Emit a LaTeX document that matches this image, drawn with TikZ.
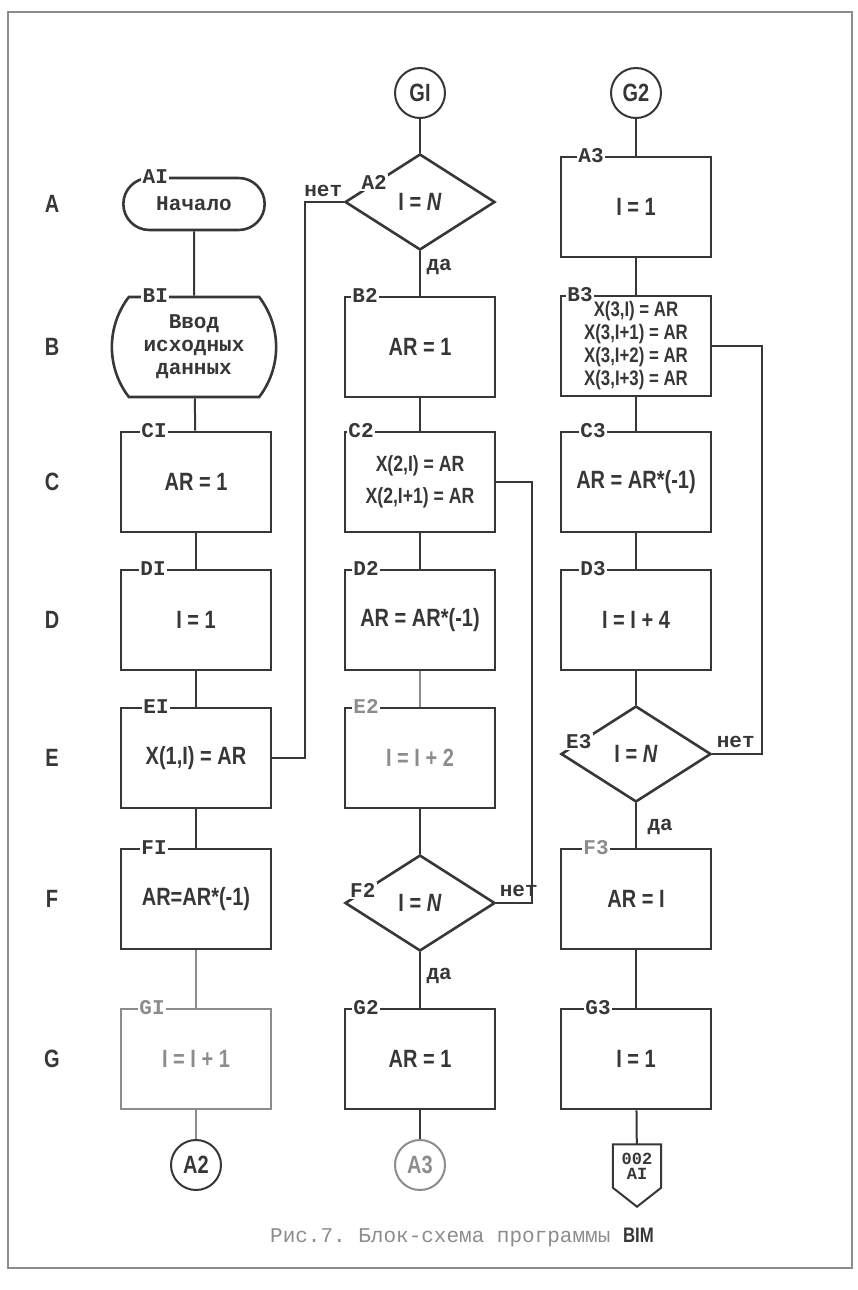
\documentclass[tikz,border=0pt]{standalone}
\usepackage{fontspec}
\setmainfont{Liberation Serif}
\setsansfont{Liberation Sans}[FakeStretch=0.8]
\setmonofont{Liberation Mono}
\usepackage{tikz}
\usetikzlibrary{shapes.geometric,shapes.misc,calc,positioning}
\definecolor{ink}{RGB}{55,55,55}
\definecolor{faint}{RGB}{140,140,140}
\newcommand\hand{\sffamily\bfseries\fontsize{25}{30}\selectfont}
\newcommand\handsm{\sffamily\bfseries\fontsize{22}{32}\selectfont}
\newcommand\handxs{\sffamily\bfseries\fontsize{21}{23}\selectfont}
\newcommand\tw{\ttfamily\fontsize{21}{23}\selectfont}
\newcommand\twb{\ttfamily\bfseries\fontsize{21}{23}\selectfont}
\newcommand\twtiny{\ttfamily\bfseries\fontsize{17}{15}\selectfont}

\begin{document}
\begin{tikzpicture}[x = 1pt, y = -1pt,
  every node/.style = {text = ink},
  block/.style = {draw = ink, line width = 2.6pt, minimum width = 150pt, minimum height = 100pt, inner sep = 0pt, align = center, font = \hand},
  decide/.style = {draw = ink, line width = 2.6pt, diamond, aspect = 1.5, minimum width = 150pt, minimum height = 96pt, inner sep = 0pt, font = \hand},
  conn/.style = {draw = ink, line width = 2pt, circle, minimum size = 50pt, inner sep = 0pt, font = \hand},
  tag/.style = {fill = white, inner sep = 1.5pt, anchor = west, font = \twb},
  rowname/.style = {font = \hand},
  link/.style = {draw = ink, line width = 2pt},
  faded/.style = {draw = faint, text = faint}]
\useasboundingbox (0,0) rectangle (857,1290);
\draw[faint, line width = 1.2pt] (8,12) rectangle (852,1268);
\node[rowname] (ra) at (52,204) {A};
\node[rowname] (rb) at (52,347) {B};
\node[rowname] (rc) at (52,482) {C};
\node[rowname] (rd) at (52,620) {D};
\node[rowname] (re) at (52,758) {E};
\node[rowname] (rf) at (52,899) {F};
\node[rowname] (rg) at (52,1059) {G};
\node[rounded rectangle, draw = ink, line width = 2.6pt, minimum width = 148pt, minimum height = 52pt, font = \twb] (a1) at (194,204) {Начало};
\node[rounded rectangle, rounded rectangle arc length = 75, draw = ink, line width = 2.6pt, minimum width = 158pt, minimum height = 100pt, align = center, font = \twb] (b1) at (194,347) {Ввод\\исходных\\данных};
\node[block] (c1) at (196,482) {AR = 1};
\node[block] (d1) at (196,620) {I = 1};
\node[block] (e1) at (196,758) {X(1,I) = AR};
\node[block] (f1) at (196,899) {AR=AR*(-1)};
\node[block, faded] (g1) at (196,1059) {I = I + 1};
\node[conn] (toa2) at (196,1165) {A2};
\node[conn] (fromg1) at (420,93) {GI};
\node[decide] (a2) at (420,202) {I = \textit{N}};
\node[block] (b2) at (420,347) {AR = 1};
\node[block, font = \handsm] (c2) at (420,482) {X(2,I) = AR\\X(2,I+1) = AR};
\node[block] (d2) at (420,620) {AR = AR*(-1)};
\node[block, text = faint] (e2) at (420,758) {I = I + 2};
\node[decide] (f2) at (420,903) {I = \textit{N}};
\node[block] (g2) at (420,1059) {AR = 1};
\node[conn, faded] (toa3) at (420,1165) {A3};
\node[conn] (fromg2) at (636,93) {G2};
\node[block] (a3) at (636,207) {I = 1};
\node[block, font = \handxs] (b3) at (636,346) {X(3,I) = AR\\X(3,I+1) = AR\\X(3,I+2) = AR\\X(3,I+3) = AR};
\node[block] (c3) at (636,482) {AR = AR*(-1)};
\node[block] (d3) at (636,620) {I = I + 4};
\node[decide] (e3) at (636,754) {I = \textit{N}};
\node[block] (f3) at (636,899) {AR = I};
\node[block] (g3) at (636,1059) {I = 1};
\node[font = \twtiny, align = center, minimum width = 48pt, minimum height = 43pt, inner sep = 0pt] (page) at (637,1166) {002\\AI};
\draw[ink, line width = 2pt] (page.north west) -- (page.north east) -- (page.south east) -- ($(page.south)+(0,19)$) -- (page.south west) -- cycle;
\node[tag] at ($(a1.north)+(-53,0)$) {AI};
\node[tag] at ($(b1.north)+(-53,0)$) {BI};
\node[tag] at ([xshift = 20pt]c1.north west) {CI};
\node[tag] at ([xshift = 19pt]d1.north west) {DI};
\node[tag] at ([xshift = 22pt]e1.north west) {EI};
\node[tag] at ([xshift = 20pt]f1.north west) {FI};
\node[tag, text = faint] at ([xshift = 18pt]g1.north west) {GI};
\node[tag, anchor = center] at ($(a2.west)!0.4!(a2.north)$) {A2};
\node[tag] at ([xshift = 7pt]b2.north west) {B2};
\node[tag] at ([xshift = 3pt]c2.north west) {C2};
\node[tag] at ([xshift = 8pt]d2.north west) {D2};
\node[tag, text = faint] at ([xshift = 8pt]e2.north west) {E2};
\node[tag, anchor = center] at ($(f2.west)!0.25!(f2.north)$) {F2};
\node[tag] at ([xshift = 8pt]g2.north west) {G2};
\node[tag] at ([xshift = 17pt]a3.north west) {A3};
\node[tag] at ([xshift = 6pt]b3.north west) {B3};
\node[tag] at ([xshift = 19pt]c3.north west) {C3};
\node[tag] at ([xshift = 19pt]d3.north west) {D3};
\node[tag, anchor = center] at ($(e3.west)!0.25!(e3.north)$) {E3};
\node[tag, text = faint] at ([xshift = 22pt]f3.north west) {F3};
\node[tag] at ([xshift = 24pt]g3.north west) {G3};
\node[font = \twb, anchor = south east] (no1) at ($(a2.west)+(2,-2)$) {нет};
\node[font = \twb, anchor = south west] (no2) at ($(f2.east)+(0,-3)$) {нет};
\node[font = \twb, anchor = south west] (no3) at ($(e3.east)+(1,-3)$) {нет};
\node[font = \twb, anchor = north west] (yes1) at ($(a2.south)+(3,4)$) {да};
\node[font = \twb, anchor = north west] (yes2) at ($(f2.south)+(3,12)$) {да};
\node[font = \twb, anchor = north west] (yes3) at ($(e3.south)+(8,12)$) {да};
\draw[link] (a1) -- (b1);
\draw[link] (b1) -- (c1);
\draw[link] (c1) -- (d1);
\draw[link] (d1) -- (e1);
\draw[link] (e1) -- (f1);
\draw[link, faint] (f1) -- (g1);
\draw[link, faint] (g1) -- (toa2);
\draw[link] (fromg1) -- (a2);
\draw[link] (a2) -- (b2);
\draw[link] (b2) -- (c2);
\draw[link] (c2) -- (d2);
\draw[link, faint] (d2) -- (e2);
\draw[link] (e2) -- (f2);
\draw[link] (f2) -- (g2);
\draw[link] (g2) -- (toa3);
\draw[link] (fromg2) -- (a3);
\draw[link] (a3) -- (b3);
\draw[link] (b3) -- (c3);
\draw[link] (c3) -- (d3);
\draw[link] (d3) -- (e3);
\draw[link] (e3) -- (f3);
\draw[link] (f3) -- (g3);
\draw[link] (g3) -- (page);
\draw[link] (e1.east) -- ++(33,0) |- (a2.west);
\draw[link] (c2.east) -- ++(36,0) |- (f2.east);
\draw[link] (b3.east) -- ++(50,0) |- (e3.east);
\node[font = \tw, text = faint] (caption) at (462,1237) {Рис.7. Блок-схема программы \textcolor{ink}{\sffamily\bfseries BIM}};
\end{tikzpicture}
\end{document}
